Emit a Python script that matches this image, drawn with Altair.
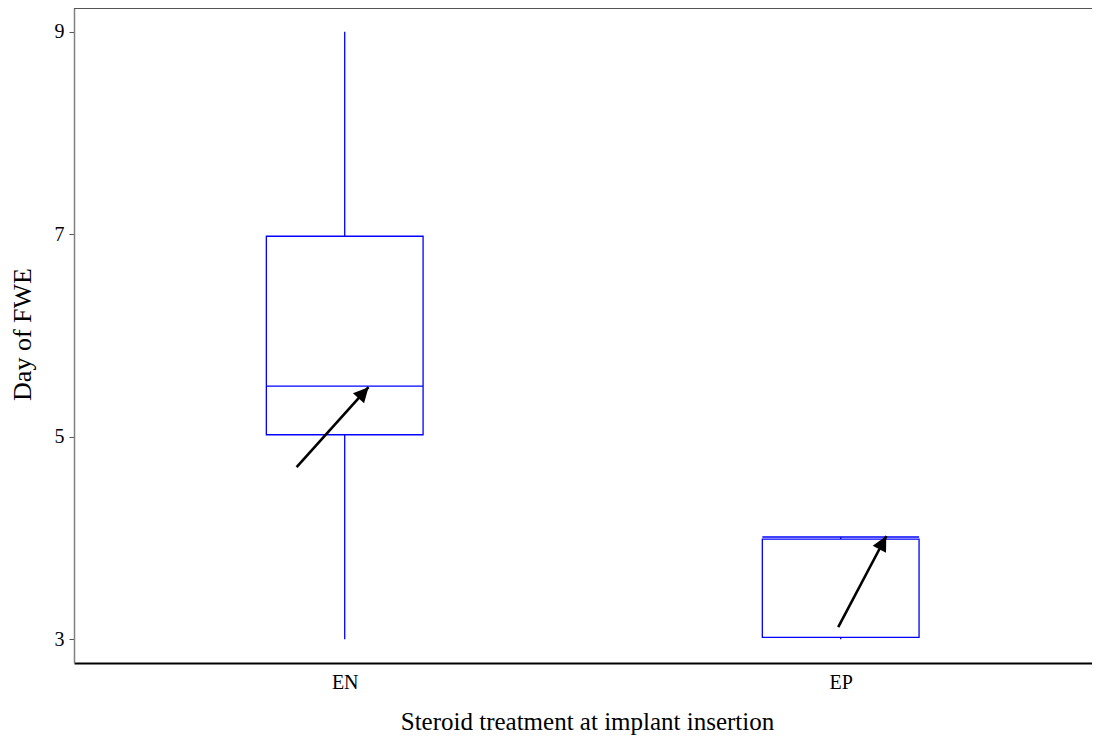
import math
import json
import altair as alt
import pandas as pd

# ---- data ----
categories = ["EN", "EP"]
whisker_low = [3.0, 3.0]
q1 = [5.02, 3.02]
median = [5.5, 4.01]
q3 = [6.98, 3.99]
whisker_high = [9.0, 4.01]

# annotation arrows (data coordinates: x = category index, y = day)
arrow_tail_x = [0.903, 1.995]
arrow_tail_y = [4.70, 3.12]
arrow_tip_x = [1.048, 2.092]
arrow_tip_y = [5.49, 4.02]

y_ticks = [3, 5, 7, 9]

# ---- layout / style ----
W, H = 1026, 655
X_DOMAIN = [0.4542, 2.5228]
Y_DOMAIN = [2.766, 9.234]
BOX_HALF = 0.158
BLUE = "#0000FF"
FONT = "Liberation Serif"

pos = list(range(1, len(categories) + 1))
box = pd.DataFrame({
    "cat": categories,
    "pos": pos,
    "left": [p - BOX_HALF for p in pos],
    "right": [p + BOX_HALF for p in pos],
    "lo": whisker_low,
    "q1": q1,
    "med": median,
    "q3": q3,
    "hi": whisker_high,
})

px_x = W / (X_DOMAIN[1] - X_DOMAIN[0])
px_y = H / (Y_DOMAIN[1] - Y_DOMAIN[0])
angles = []
for tx, ty, hx, hy in zip(arrow_tail_x, arrow_tail_y, arrow_tip_x, arrow_tip_y):
    a = math.degrees(math.atan2((hx - tx) * px_x, (hy - ty) * px_y)) % 360
    angles.append(a)
arrows = pd.DataFrame({
    "tx": arrow_tail_x, "ty": arrow_tail_y,
    "hx": arrow_tip_x, "hy": arrow_tip_y,
    "ang": angles,
})

xs = alt.Scale(domain=X_DOMAIN, nice=False, zero=False)
ys = alt.Scale(domain=Y_DOMAIN, nice=False, zero=False)

label_expr = json.dumps(categories) + "[datum.value - 1]"

x_axis = alt.Axis(
    values=pos, labelExpr=label_expr, ticks=False, tickSize=0,
    title="Steroid treatment at implant insertion",
    labelFontSize=20, labelBaseline="alphabetic", labelPadding=25,
    titleFontSize=25, titleBaseline="alphabetic", titleY=66,
    domainColor="black", domainWidth=2, labelAngle=0,
)
y_axis = alt.Axis(
    values=y_ticks, title="Day of FWE", tickSize=5, tickColor="#555555",
    labelFontSize=20, labelPadding=5,
    titleFontSize=26, titleAngle=-90, titleBaseline="middle",
    titleX=-52, titleY=326,
    domainColor="#808080", domainWidth=1.5,
)


def X(field):
    return alt.X(field, scale=xs, axis=x_axis)


def Y(field):
    return alt.Y(field, scale=ys, axis=y_axis)


whisk_up = alt.Chart(box).mark_rule(color=BLUE, strokeWidth=1.3).encode(
    x=X("pos:Q"), y=Y("q3:Q"), y2="hi:Q",
)
whisk_lo = alt.Chart(box).mark_rule(color=BLUE, strokeWidth=1.3).encode(
    x=X("pos:Q"), y=Y("lo:Q"), y2="q1:Q",
)
rect = alt.Chart(box).mark_rect(fill="white", stroke=BLUE, strokeWidth=1.3).encode(
    x=X("left:Q"), x2="right:Q", y=Y("q1:Q"), y2="q3:Q",
)
med = alt.Chart(box).mark_rule(color=BLUE, strokeWidth=1.3).encode(
    x=X("left:Q"), x2="right:Q", y=Y("med:Q"),
)
shaft = alt.Chart(arrows).mark_rule(color="black", strokeWidth=2.6).encode(
    x=X("tx:Q"), x2="hx:Q", y=Y("ty:Q"), y2="hy:Q",
)
head = alt.Chart(arrows).mark_point(
    shape="M0,0 L0.5,1 L-0.5,1 Z", filled=True, color="black", opacity=1, size=900,
).encode(
    x=X("hx:Q"), y=Y("hy:Q"),
    angle=alt.Angle("ang:Q", scale=None),
)
top_border = alt.Chart(box).mark_rule(color="#555555", strokeWidth=2).encode(
    x=alt.value(0), x2=alt.value(W), y=alt.value(0),
)

chart = alt.layer(whisk_up, whisk_lo, rect, med, shaft, head, top_border).properties(
    width=W, height=H,
    autosize=alt.AutoSizeParams(type="none"),
    padding={"left": 66, "top": 0, "right": -8, "bottom": 75},
    background="white",
).configure_view(stroke=None).configure_axis(
    labelFont=FONT, titleFont=FONT, labelColor="black", titleColor="black",
    grid=False, titleFontWeight="normal",
)

chart.save("out.html", embed_options={"renderer": "svg", "actions": False})
